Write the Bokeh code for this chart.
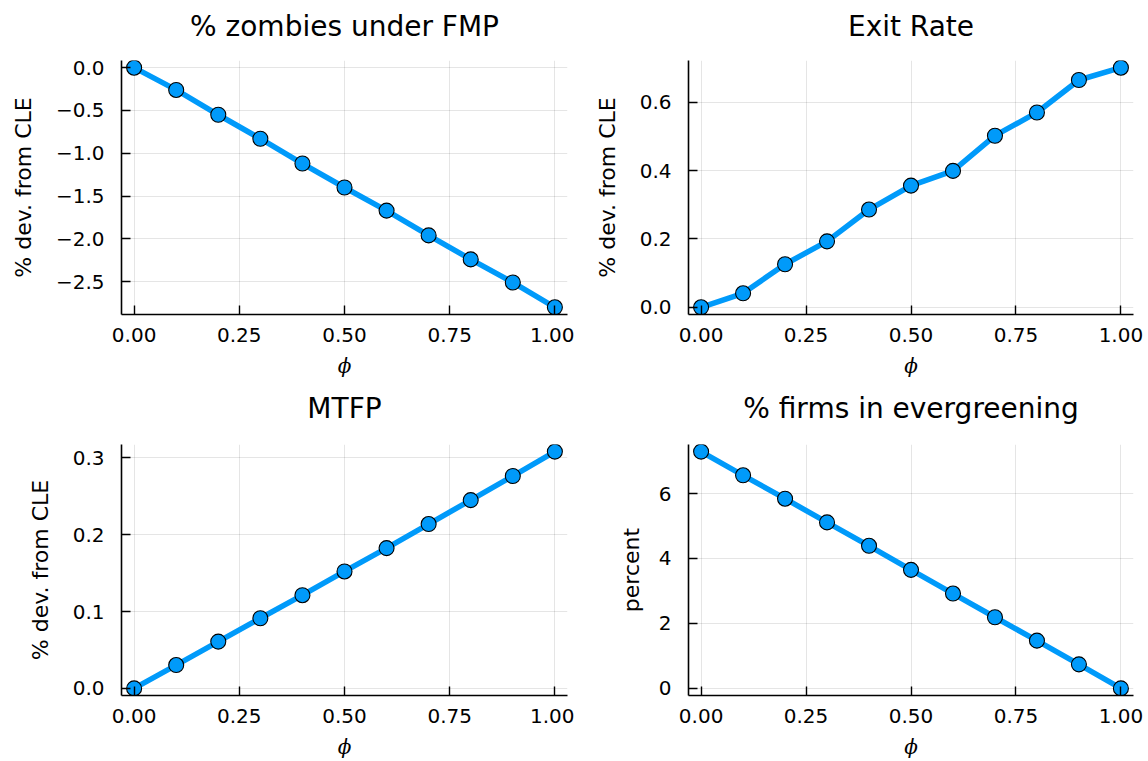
from bokeh.plotting import figure
from bokeh.models import Range1d, FixedTicker, CustomJSTickFormatter, Title
from bokeh.layouts import column, row
from bokeh.embed import file_html
from bokeh.resources import INLINE

# ---- data -------------------------------------------------------------
phi = [0.0, 0.1, 0.2, 0.3, 0.4, 0.5, 0.6, 0.7, 0.8, 0.9, 1.0]
zombies = [0.0, -0.26, -0.55, -0.83, -1.12, -1.40, -1.67, -1.96, -2.24, -2.51, -2.80]
exit_rate = [0.0, 0.041, 0.126, 0.193, 0.286, 0.356, 0.399, 0.502, 0.570, 0.665, 0.701]
mtfp = [0.0, 0.0304, 0.0609, 0.0913, 0.1213, 0.1522, 0.1826, 0.2139, 0.2451, 0.2764, 0.3082]
evergreen = [7.29, 6.56, 5.84, 5.11, 4.39, 3.65, 2.92, 2.19, 1.47, 0.74, 0.0]

titles = ["% zombies under FMP", "Exit Rate", "MTFP", "% firms in evergreening"]
ylabels = ["% dev. from CLE", "% dev. from CLE", "% dev. from CLE", "percent"]
xlabel = "\u03d5"

x_ticks = [0.0, 0.25, 0.5, 0.75, 1.0]
zombies_ticks = [0.0, -0.5, -1.0, -1.5, -2.0, -2.5]
exit_ticks = [0.0, 0.2, 0.4, 0.6]
mtfp_ticks = [0.0, 0.1, 0.2, 0.3]
evergreen_ticks = [0, 2, 4, 6]

BLUE = "#009AFA"
FONT = "DejaVu Sans"


def fmt(digits):
    return CustomJSTickFormatter(
        code="return tick.toFixed(%d).replace('-', '\u2212');" % digits)


def padded(vals, frac=0.03):
    lo, hi = min(vals), max(vals)
    span = hi - lo
    return Range1d(lo - frac * span, hi + frac * span)


def panel(title, ys, ylabel, yticks, ydigits, width, height, left, right, top, bottom,
          gap, ylab_stand):
    p = figure(width=width, height=height, output_backend="svg", toolbar_location=None,
               x_range=padded(phi), y_range=padded(ys),
               min_border_left=left, min_border_right=right,
               min_border_top=top, min_border_bottom=bottom)
    p.outline_line_color = None
    p.background_fill_color = "white"
    p.border_fill_color = "white"

    p.title.text = title
    p.title.align = "center"
    p.title.text_font = FONT
    p.title.text_font_size = "28px"
    p.title.text_font_style = "normal"
    p.title.text_color = "black"
    p.title.standoff = 0
    # invisible spacer between the title and the frame
    p.add_layout(Title(text=" ", text_font_size="1px", standoff=gap), "above")

    for ax, ticks, digits in ((p.xaxis[0], x_ticks, 2), (p.yaxis[0], yticks, ydigits)):
        ax.ticker = FixedTicker(ticks=ticks)
        ax.formatter = fmt(digits)
        ax.major_tick_in = 9
        ax.major_tick_out = 0
        ax.minor_tick_in = 0
        ax.minor_tick_out = 0
        ax.axis_line_width = 1.6
        ax.axis_line_color = "black"
        ax.major_tick_line_width = 1.4
        ax.major_tick_line_color = "black"
        ax.major_label_text_font = FONT
        ax.major_label_text_font_size = "20px"
        ax.major_label_text_color = "black"
        ax.axis_label_text_color = "black"

    p.xaxis.major_label_standoff = 13
    p.yaxis.major_label_standoff = 17

    p.yaxis.axis_label = ylabel
    p.yaxis.axis_label_text_font = FONT
    p.yaxis.axis_label_text_font_size = "22px"
    p.yaxis.axis_label_text_font_style = "normal"
    p.yaxis.axis_label_standoff = ylab_stand

    p.xaxis.axis_label = xlabel
    p.xaxis.axis_label_text_font = "DejaVu Serif"
    p.xaxis.axis_label_text_font_size = "20px"
    p.xaxis.axis_label_text_font_style = "italic"
    p.xaxis.axis_label_standoff = 9

    p.xgrid.ticker = FixedTicker(ticks=x_ticks)
    p.ygrid.ticker = FixedTicker(ticks=yticks)
    for g in (p.xgrid[0], p.ygrid[0]):
        g.grid_line_color = "black"
        g.grid_line_alpha = 0.1
        g.grid_line_width = 1

    p.line(phi, ys, line_color=BLUE, line_width=5.5)
    p.scatter(phi, ys, size=15, fill_color=BLUE, line_color="black", line_width=1.1)
    return p


p1 = panel(titles[0], zombies, ylabels[0], zombies_ticks, 1, 574, 380, 121, 7, 60, 65, 15, 17)
p2 = panel(titles[1], exit_rate, ylabels[1], exit_ticks, 1, 574, 380, 114, 15, 60, 65, 15, 17)
p3 = panel(titles[2], mtfp, ylabels[2], mtfp_ticks, 1, 574, 381, 121, 7, 64, 63, 17, 17)
p4 = panel(titles[3], evergreen, ylabels[3], evergreen_ticks, 0, 574, 381, 114, 15, 64, 63, 17, 12)

layout = column(row(p1, p2), row(p3, p4))

with open("out.html", "w", encoding="utf-8") as f:
    f.write(file_html(layout, INLINE))
